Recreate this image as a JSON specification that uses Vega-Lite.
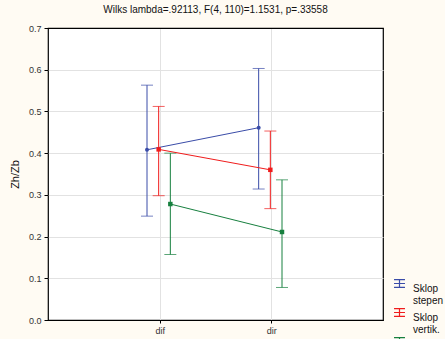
{
  "$schema": "https://vega.github.io/schema/vega-lite/v6.json",
  "width": 335,
  "height": 292,
  "autosize": {"type": "none"},
  "padding": {"left": 48, "top": 28, "right": 62, "bottom": 19},
  "background": "#fffbf3",
  "title": {
    "text": "Wilks lambda=.92113, F(4, 110)=1.1531, p=.33558",
    "font": "Liberation Sans",
    "fontSize": 10,
    "fontWeight": "normal",
    "color": "#111111",
    "anchor": "middle",
    "offset": 9
  },
  "config": {
    "view": {"fill": "white", "stroke": "#000000", "strokeWidth": 1.2},
    "axis": {
      "labelFont": "Liberation Sans",
      "labelFontSize": 9,
      "labelColor": "#333333",
      "titleFont": "Liberation Sans",
      "titleFontWeight": "normal",
      "gridColor": "#e2e2e2",
      "gridWidth": 1,
      "domain": false,
      "tickColor": "#000000",
      "tickSize": 4,
      "labelOverlap": false
    },
    "legend": {
      "labelFont": "Liberation Sans"
    }
  },
  "data": {
    "values": [
      {"cond": "dif", "series": "Sklop stepen", "mean": 0.408, "lo": 0.249, "hi": 0.563},
      {"cond": "dir", "series": "Sklop stepen", "mean": 0.461, "lo": 0.314, "hi": 0.603},
      {"cond": "dif", "series": "Sklop vertik.", "mean": 0.409, "lo": 0.298, "hi": 0.512},
      {"cond": "dir", "series": "Sklop vertik.", "mean": 0.360, "lo": 0.267, "hi": 0.453},
      {"cond": "dif", "series": "Sklop horiz.", "mean": 0.278, "lo": 0.157, "hi": 0.400},
      {"cond": "dir", "series": "Sklop horiz.", "mean": 0.211, "lo": 0.078, "hi": 0.336}
    ]
  },
  "encoding": {
    "x": {
      "field": "cond",
      "type": "nominal",
      "scale": {"type": "point", "padding": 1},
      "axis": {"title": null, "labelAngle": 0, "grid": true, "tickSize": 3, "labelPadding": 3}
    },
    "xOffset": {
      "field": "series",
      "type": "nominal",
      "scale": {"type": "point", "domain": ["Sklop stepen", "Sklop vertik.", "Sklop horiz."], "range": [-18.5, 16.5]}
    },
    "color": {
      "field": "series",
      "type": "nominal",
      "scale": {"domain": ["Sklop stepen", "Sklop vertik.", "Sklop horiz."], "range": ["#3a4ca8", "#f01c1c", "#17803f"]},
      "legend": {
        "title": null,
        "orient": "none",
        "legendX": 345,
        "legendY": 249,
        "symbolType": "M-1,0H1M0,-0.7V0.7M-1,-0.7H1M-1,0.7H1",
        "symbolSize": 120,
        "symbolStrokeWidth": 1.2,
        "labelFontSize": 10,
        "labelColor": "#111111",
        "labelExpr": "split(datum.label, ' ')",
        "labelLineHeight": 10,
        "labelBaseline": "middle",
        "labelOffset": 7,
        "rowPadding": -20,
        "symbolOffset": 0,
        "encode": {
          "symbols": {
            "update": {
              "fill": {"value": "transparent"},
              "stroke": {"scale": "color", "field": "value"},
              "shape": {"value": "M-1,0H1M0,-0.7V0.7M-1,-0.7H1M-1,0.7H1"},
              "strokeWidth": {"value": 1.2}
            }
          },
          "labels": {
            "update": {"dy": {"value": 5}}
          }
        }
      }
    }
  },
  "layer": [
    {
      "mark": {"type": "rule", "strokeWidth": 1},
      "encoding": {
        "y": {
          "field": "lo",
          "type": "quantitative",
          "scale": {"domain": [0, 0.7], "nice": false},
          "axis": {"title": "Zh/Zb", "titleFontSize": 11, "titleColor": "#111111", "titlePadding": 8, "format": ".1f", "values": [0, 0.1, 0.2, 0.3, 0.4, 0.5, 0.6, 0.7], "labelPadding": 3, "gridColor": {"condition": {"test": "datum.value <= 0.001 || datum.value >= 0.699", "value": "#000000"}, "value": "#e2e2e2"}}
        },
        "y2": {"field": "hi"}
      }
    },
    {
      "mark": {"type": "tick", "thickness": 1, "size": 12},
      "encoding": {"y": {"field": "lo", "type": "quantitative"}}
    },
    {
      "mark": {"type": "tick", "thickness": 1, "size": 12},
      "encoding": {"y": {"field": "hi", "type": "quantitative"}}
    },
    {
      "mark": {"type": "line", "strokeWidth": 1},
      "encoding": {
        "y": {"field": "mean", "type": "quantitative"},
        "detail": {"field": "series"}
      }
    },
    {
      "transform": [{"filter": "datum.series == 'Sklop stepen'"}],
      "mark": {"type": "circle", "opacity": 1, "size": 16},
      "encoding": {
        "y": {"field": "mean", "type": "quantitative"}
      }
    },
    {
      "transform": [{"filter": "datum.series != 'Sklop stepen'"}],
      "mark": {"type": "square", "opacity": 1, "size": 20},
      "encoding": {
        "y": {"field": "mean", "type": "quantitative"}
      }
    }
  ],
  "resolve": {"axis": {"y": "shared"}}
}
